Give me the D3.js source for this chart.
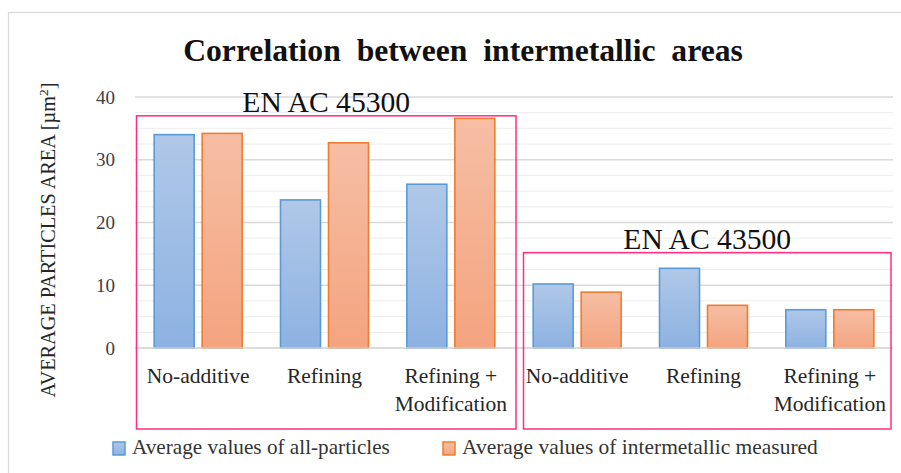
<!DOCTYPE html>
<html>
<head>
<meta charset="utf-8">
<script src="https://cdn.jsdelivr.net/npm/d3@7"></script>
<style>
  html, body { margin: 0; padding: 0; background: #fff; }
  svg { display: block; }
</style>
</head>
<body>
<svg id="chart" width="901" height="473"></svg>
<script>
// ---- data ----
const categories = ["No-additive", "Refining", "Refining +|Modification", "No-additive", "Refining", "Refining +|Modification"];
const seriesNames = ["Average values of all-particles", "Average values of intermetallic measured"];
const allParticles = [34.0, 23.6, 26.1, 10.2, 12.7, 6.1];
const intermetallic = [34.2, 32.7, 36.6, 8.9, 6.8, 6.1];
const yTicks = [0, 10, 20, 30, 40];
const groupLabels = ["EN AC 45300", "EN AC 43500"];
const groupRanges = [[0, 2], [3, 5]];
const groupTops = [37, 15.2];

// ---- layout ----
const FONT = "'Liberation Serif', 'Times New Roman', serif";
const svg = d3.select("#chart");
const plot = { left: 135, right: 893, top: 97, bottom: 348 };
const colors = [
  { stroke: "#5b9bd5", top: "#b0c8e8", bottom: "#8db2e2" },
  { stroke: "#ed7d31", top: "#f6bea4", bottom: "#f4a47f" }
];

function fit(sel, target) {
  const w = sel.node().getComputedTextLength();
  const fs = parseFloat(sel.attr("font-size"));
  sel.attr("font-size", fs * target / w);
}

// outer border
svg.append("rect").attr("x", 8.5).attr("y", 12.5).attr("width", 900).attr("height", 470)
  .attr("fill", "#fff").attr("stroke", "#d9d9d9").attr("stroke-width", 1.2);

const x = d3.scaleBand().domain(d3.range(categories.length)).range([plot.left, plot.right]);
const y = d3.scaleLinear().domain([0, 40]).range([plot.bottom, plot.top]);
const barW = 40, gap = 8;

// gradients
const defs = svg.append("defs");
colors.forEach((c, i) => {
  const g = defs.append("linearGradient").attr("id", "grad" + i).attr("x1", 0).attr("y1", 0).attr("x2", 0).attr("y2", 1);
  g.append("stop").attr("offset", "0%").attr("stop-color", c.top);
  g.append("stop").attr("offset", "100%").attr("stop-color", c.bottom);
});

// minor gridlines
const minor = d3.range(0, 40.01, 2.5).filter(v => v % 10 !== 0);
svg.append("g").selectAll("line").data(minor).join("line")
  .attr("x1", plot.left).attr("x2", plot.right)
  .attr("y1", d => y(d)).attr("y2", d => y(d))
  .attr("stroke", "#efefef").attr("stroke-width", 1.2);

// major gridlines
svg.append("g").selectAll("line").data(yTicks.filter(d => d > 0)).join("line")
  .attr("x1", plot.left).attr("x2", plot.right)
  .attr("y1", d => y(d)).attr("y2", d => y(d))
  .attr("stroke", "#d9d9d9").attr("stroke-width", 1.3);

// y axis with d3
const yAxis = d3.axisLeft(y).tickValues(yTicks).tickSize(0).tickPadding(20);
const yg = svg.append("g").attr("transform", `translate(${plot.left},0)`).call(yAxis);
yg.select(".domain").remove();
yg.selectAll("text").attr("font-size", 19).style("font-family", FONT).attr("fill", "#404040");

// bars
const series = [allParticles, intermetallic];
series.forEach((vals, si) => {
  svg.append("g").selectAll("rect").data(vals).join("rect")
    .attr("x", (d, i) => x(i) + x.bandwidth() / 2 + (si === 0 ? -gap / 2 - barW : gap / 2))
    .attr("y", d => y(d))
    .attr("width", barW)
    .attr("height", d => y(0) - y(d))
    .attr("fill", `url(#grad${si})`)
    .attr("stroke", colors[si].stroke)
    .attr("stroke-width", 1.6);
});

// baseline
svg.append("line").attr("x1", plot.left).attr("x2", plot.right)
  .attr("y1", y(0)).attr("y2", y(0)).attr("stroke", "#d0d0d0").attr("stroke-width", 1.5);

// category labels
const catG = svg.append("g");
categories.forEach((c, i) => {
  const lines = c.split("|");
  const cx = x(i) + x.bandwidth() / 2;
  const t = catG.append("text").attr("text-anchor", "middle").attr("font-size", 21.5)
    .style("font-family", FONT).attr("fill", "#262626")
    .attr("x", cx).attr("y", 383);
  lines.forEach((ln, k) => {
    t.append("tspan").attr("x", cx).attr("dy", k === 0 ? 0 : 27.5).text(ln);
  });
});

// group boxes
groupRanges.forEach((r, gi) => {
  const x0 = x(r[0]) + (gi === 0 ? 1.5 : 9.5);
  const x1 = x(r[1]) + x.bandwidth() + (gi === 0 ? 2 : -2);
  const yt = y(groupTops[gi]);
  svg.append("rect").attr("x", x0).attr("y", yt).attr("width", x1 - x0).attr("height", 429 - yt)
    .attr("fill", "none").attr("stroke", "#ff2e7e").attr("stroke-width", 1.5);
  const t = svg.append("text").attr("x", (x0 + x1) / 2).attr("y", yt - 3.5)
    .attr("text-anchor", "middle").attr("font-size", 29).style("font-family", FONT)
    .attr("fill", "#111").text(groupLabels[gi]);
  fit(t, 168);
});

// title
const title = svg.append("text").attr("x", 463).attr("y", 61).attr("text-anchor", "middle")
  .attr("font-size", 27).attr("font-weight", "bold").style("font-family", FONT).attr("fill", "#111")
  .style("white-space", "pre").text("Correlation  between  intermetallic  areas");
fit(title, 560);

// y axis title
const yt = svg.append("text").attr("transform", `translate(55,240) rotate(-90)`).attr("text-anchor", "middle")
  .attr("font-size", 18).style("font-family", FONT).attr("fill", "#262626");
yt.append("tspan").text("AVERAGE PARTICLES AREA [µm");
yt.append("tspan").attr("dy", -7).attr("font-size", 12).text("2");
yt.append("tspan").attr("dy", 7).text("]");
{
  const w = yt.node().getComputedTextLength();
  const k = 315 / w;
  yt.attr("font-size", 18 * k);
  yt.selectAll("tspan").filter((d, i) => i === 1).attr("font-size", 12 * k);
}

// legend
const legX = [113, 443];
const legW = [258, 356];
seriesNames.forEach((n, i) => {
  svg.append("rect").attr("x", legX[i]).attr("y", 442).attr("width", 12).attr("height", 13)
    .attr("fill", `url(#grad${i})`).attr("stroke", colors[i].stroke).attr("stroke-width", 1.5);
  const t = svg.append("text").attr("x", legX[i] + 19).attr("y", 454).attr("font-size", 19)
    .style("font-family", FONT).attr("fill", "#333").text(n);
  fit(t, legW[i]);
});
</script>
</body>
</html>
